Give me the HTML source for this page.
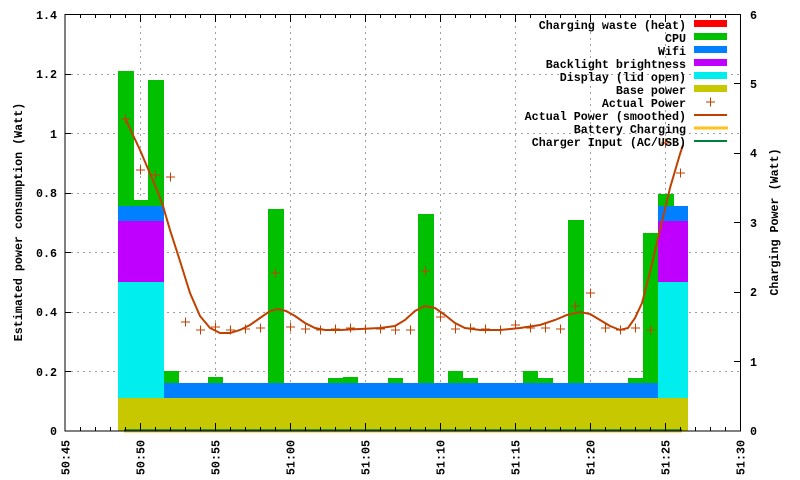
<!DOCTYPE html>
<html><head><meta charset="utf-8"><style>
html,body{margin:0;padding:0;background:#fff;}
svg{display:block;}
text{font-family:"Liberation Mono",monospace;font-size:11.7px;font-weight:bold;fill:#000;}
</style></head><body>
<svg width="800" height="480" viewBox="0 0 800 480" xmlns="http://www.w3.org/2000/svg">
<g stroke="#a0a0a0" stroke-width="1" stroke-dasharray="2,4">
<line x1="65" y1="371.5" x2="740" y2="371.5"/>
<line x1="65" y1="312.5" x2="740" y2="312.5"/>
<line x1="65" y1="252.5" x2="740" y2="252.5"/>
<line x1="65" y1="193.5" x2="740" y2="193.5"/>
<line x1="65" y1="133.5" x2="740" y2="133.5"/>
<line x1="65" y1="74.5" x2="740" y2="74.5"/>
<line x1="140.5" y1="14" x2="140.5" y2="431"/>
<line x1="215.5" y1="14" x2="215.5" y2="431"/>
<line x1="290.5" y1="14" x2="290.5" y2="431"/>
<line x1="365.5" y1="14" x2="365.5" y2="431"/>
<line x1="440.5" y1="14" x2="440.5" y2="431"/>
<line x1="515.5" y1="14" x2="515.5" y2="431"/>
<line x1="590.5" y1="14" x2="590.5" y2="431"/>
<line x1="665.5" y1="14" x2="665.5" y2="431"/>
</g>
<!-- bars -->
<g>
<rect x="118" y="398" width="570" height="33" fill="#c8c800"/>
<rect x="118" y="282" width="46" height="116" fill="#00eeee"/>
<rect x="658" y="282" width="30" height="116" fill="#00eeee"/>
<rect x="118" y="221" width="46" height="61" fill="#c000ff"/>
<rect x="658" y="221" width="30" height="61" fill="#c000ff"/>
<rect x="118" y="206" width="46" height="15" fill="#0080ff"/>
<rect x="658" y="206" width="30" height="15" fill="#0080ff"/>
<rect x="164" y="383" width="494" height="15" fill="#0080ff"/>
<g fill="#00c000">
<rect x="118" y="71" width="16" height="135"/>
<rect x="133" y="200" width="15" height="6"/>
<rect x="148" y="80" width="16" height="126"/>
<rect x="164" y="371" width="15" height="12"/>
<rect x="208" y="377" width="15" height="6"/>
<rect x="268" y="209" width="16" height="174"/>
<rect x="328" y="378" width="15" height="5"/>
<rect x="343" y="377" width="15" height="6"/>
<rect x="388" y="378" width="15" height="5"/>
<rect x="418" y="214" width="16" height="169"/>
<rect x="448" y="371" width="15" height="12"/>
<rect x="463" y="378" width="15" height="5"/>
<rect x="523" y="371" width="15" height="12"/>
<rect x="538" y="378" width="15" height="5"/>
<rect x="568" y="220" width="16" height="163"/>
<rect x="628" y="378" width="15" height="5"/>
<rect x="643" y="233" width="15" height="150"/>
<rect x="658" y="194" width="16" height="12"/>
</g>
</g>
<line x1="124" y1="431.5" x2="682" y2="431.5" stroke="#ffc020" stroke-width="2"/>
<line x1="124" y1="430" x2="682" y2="430" stroke="#008040" stroke-width="1.5"/>
<!-- smoothed -->
<polyline fill="none" stroke="#c04000" stroke-width="2" points="125,118 140,150 157,190 163,206 170,230 180,261 190,293 200,316 210,328 220,333 230,333 240,330 250,325 260,318 270,311 278,309 286,311 295,316 305,323 315,328 325,330 340,330 360,329 380,328 395,326 405,320 415,311 425,306 435,308 445,315 455,323 465,328 480,330 500,330 520,328 540,325 555,320 567,315 580,312 590,314 600,320 610,326 620,330 628,328 635,318 642,303 650,272 660,230 670,188 680,154 683,145"/>
<!-- points -->
<g stroke="#c04000" stroke-width="1">
<path d="M121,119h9M125.5,114.5v9 M136,170h9M140.5,165.5v9 M151,175h9M155.5,170.5v9 M166,177h9M170.5,172.5v9 M181,322h9M185.5,317.5v9 M196,330h9M200.5,325.5v9 M211,327h9M215.5,322.5v9 M226,330h9M230.5,325.5v9 M241,329h9M245.5,324.5v9 M256,328h9M260.5,323.5v9 M271,273h9M275.5,268.5v9 M286,327h9M290.5,322.5v9 M301,329h9M305.5,324.5v9 M316,330h9M320.5,325.5v9 M331,329h9M335.5,324.5v9 M346,328h9M350.5,323.5v9 M361,329h9M365.5,324.5v9 M376,329h9M380.5,324.5v9 M391,330h9M395.5,325.5v9 M406,330h9M410.5,325.5v9 M421,271h9M425.5,266.5v9 M436,317h9M440.5,312.5v9 M451,329h9M455.5,324.5v9 M466,328h9M470.5,323.5v9 M481,329h9M485.5,324.5v9 M496,330h9M500.5,325.5v9 M511,325h9M515.5,320.5v9 M526,328h9M530.5,323.5v9 M541,328h9M545.5,323.5v9 M556,329h9M560.5,324.5v9 M571,306h9M575.5,301.5v9 M586,293h9M590.5,288.5v9 M601,328h9M605.5,323.5v9 M616,330h9M620.5,325.5v9 M631,328h9M635.5,323.5v9 M646,330h9M650.5,325.5v9 M661,143h9M665.5,138.5v9 M676,173h9M680.5,168.5v9"/>
</g>
<!-- border -->
<rect x="65" y="14.5" width="675.5" height="416.5" fill="none" stroke="#000" stroke-width="1"/>
<g stroke="#000" stroke-width="1">
<path d="M65,371.5h6M65,312.5h6M65,252.5h6M65,193.5h6M65,133.5h6M65,74.5h6"/>
<path d="M740,361.5h-6M740,292.5h-6M740,222.5h-6M740,153.5h-6M740,83.5h-6"/>
<path id="xt" d="M80.5,431v-4M95.5,431v-4M110.5,431v-4M125.5,431v-4M140.5,431v-8M155.5,431v-4M170.5,431v-4M185.5,431v-4M200.5,431v-4M215.5,431v-8M230.5,431v-4M245.5,431v-4M260.5,431v-4M275.5,431v-4M290.5,431v-8M305.5,431v-4M320.5,431v-4M335.5,431v-4M350.5,431v-4M365.5,431v-8M380.5,431v-4M395.5,431v-4M410.5,431v-4M425.5,431v-4M440.5,431v-8M455.5,431v-4M470.5,431v-4M485.5,431v-4M500.5,431v-4M515.5,431v-8M530.5,431v-4M545.5,431v-4M560.5,431v-4M575.5,431v-4M590.5,431v-8M605.5,431v-4M620.5,431v-4M635.5,431v-4M650.5,431v-4M665.5,431v-8M680.5,431v-4M695.5,431v-4M710.5,431v-4M725.5,431v-4"/>
<use href="#xt" transform="translate(0,445) scale(1,-1)"/>
</g>
<!-- left labels -->
<g text-anchor="end">
<text x="57" y="435">0</text>
<text x="57" y="376">0.2</text>
<text x="57" y="316">0.4</text>
<text x="57" y="257">0.6</text>
<text x="57" y="197">0.8</text>
<text x="57" y="138">1</text>
<text x="57" y="78">1.2</text>
<text x="57" y="19">1.4</text>
</g>
<g>
<text x="750" y="435">0</text>
<text x="750" y="366">1</text>
<text x="750" y="296">2</text>
<text x="750" y="227">3</text>
<text x="750" y="157">4</text>
<text x="750" y="88">5</text>
<text x="750" y="19">6</text>
</g>
<g text-anchor="end">
<text transform="translate(69.5,440) rotate(-90)">50:45</text>
<text transform="translate(144.5,440) rotate(-90)">50:50</text>
<text transform="translate(219.5,440) rotate(-90)">50:55</text>
<text transform="translate(294.5,440) rotate(-90)">51:00</text>
<text transform="translate(369.5,440) rotate(-90)">51:05</text>
<text transform="translate(444.5,440) rotate(-90)">51:10</text>
<text transform="translate(519.5,440) rotate(-90)">51:15</text>
<text transform="translate(594.5,440) rotate(-90)">51:20</text>
<text transform="translate(669.5,440) rotate(-90)">51:25</text>
<text transform="translate(744.5,440) rotate(-90)">51:30</text>
</g>
<text text-anchor="middle" transform="translate(22,222) rotate(-90)">Estimated power consumption (Watt)</text>
<text text-anchor="middle" transform="translate(778,222) rotate(-90)">Charging Power (Watt)</text>
<!-- legend -->
<g text-anchor="end">
<text x="686" y="29">Charging waste (heat)</text>
<text x="686" y="42">CPU</text>
<text x="686" y="55">Wifi</text>
<text x="686" y="68">Backlight brightness</text>
<text x="686" y="81">Display (lid open)</text>
<text x="686" y="94">Base power</text>
<text x="686" y="107">Actual Power</text>
<text x="686" y="120">Actual Power (smoothed)</text>
<text x="686" y="133">Battery Charging</text>
<text x="686" y="146">Charger Input (AC/USB)</text>
</g>
<rect x="694" y="20" width="33" height="7" fill="#ff0000"/>
<rect x="694" y="33" width="33" height="7" fill="#00c000"/>
<rect x="694" y="46" width="33" height="7" fill="#0080ff"/>
<rect x="694" y="59" width="33" height="7" fill="#c000ff"/>
<rect x="694" y="72" width="33" height="7" fill="#00eeee"/>
<rect x="694" y="85" width="33" height="7" fill="#c8c800"/>
<path d="M706,102h9M710.5,97.5v9" stroke="#c04000" stroke-width="1"/>
<line x1="694" y1="115" x2="727" y2="115" stroke="#c04000" stroke-width="2"/>
<line x1="694" y1="128" x2="728" y2="128" stroke="#ffc020" stroke-width="3"/>
<line x1="694" y1="141" x2="727" y2="141" stroke="#008040" stroke-width="2"/>
</svg>
</body></html>
